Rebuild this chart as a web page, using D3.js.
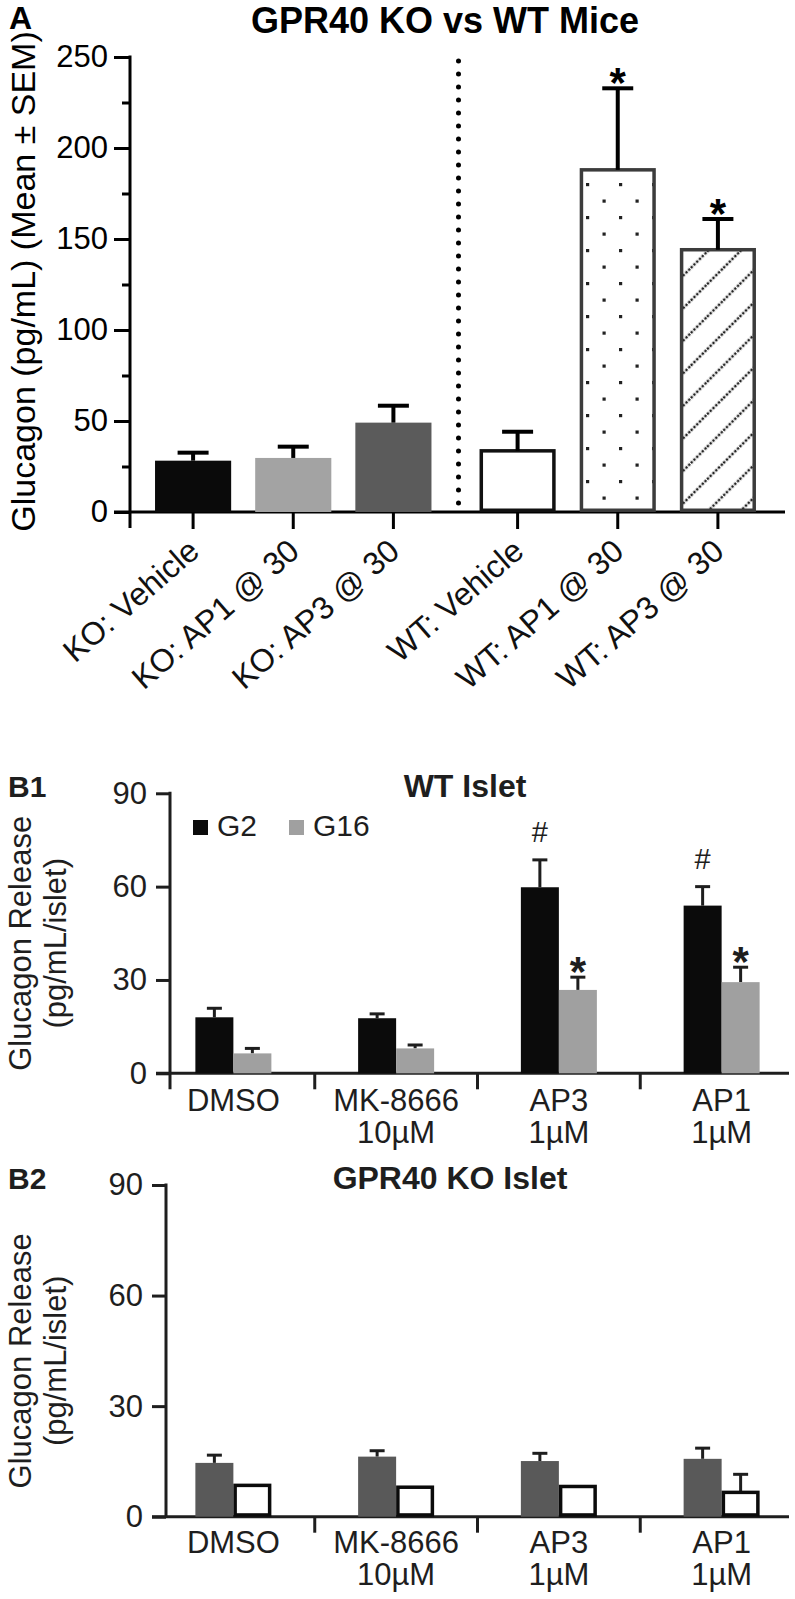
<!DOCTYPE html>
<html><head><meta charset="utf-8">
<script src="https://cdnjs.cloudflare.com/ajax/libs/d3/7.8.5/d3.min.js"></script>
<style>body{margin:0;background:#fff}svg{display:block}</style>
</head><body><div id="chart"></div>
<script>
// ---------------- DATA ----------------
// Panel A
const aCategories = ["KO: Vehicle","KO: AP1 @ 30","KO: AP3 @ 30","WT: Vehicle","WT: AP1 @ 30","WT: AP3 @ 30"];
const aGroups = ["KO","KO","KO","WT","WT","WT"];
const aMeans = [28.2, 29.7, 49.1, 33.6, 188.0, 144.1];
const aSEM   = [4.4, 6.2, 9.3, 10.5, 44.8, 16.9];
const aSignif = ["","","","","*","*"];
const aYTicks = [0,50,100,150,200,250];
const aYMinorTicks = [25,75,125,175,225];

// Panels B1 / B2
const bCategories = [["DMSO"],["MK-8666","10µM"],["AP3","1µM"],["AP1","1µM"]];
const bSeries = ["G2","G16"];
const bYTicks = [0,30,60,90];
const b1G2   = [18.0, 17.7, 59.8, 53.9];
const b1G2E  = [2.9, 1.4, 8.8, 6.1];
const b1G16  = [6.4, 8.0, 26.8, 29.3];
const b1G16E = [1.6, 1.1, 4.1, 4.8];
const b1G2Sig  = ["","","#","#"];
const b1G16Sig = ["","","*","*"];
const b2G2   = [14.6, 16.3, 15.1, 15.7];
const b2G2E  = [2.1, 1.6, 2.1, 2.9];
const b2G16  = [8.5, 8.0, 8.2, 6.6];
const b2G16E = [0, 0, 0, 4.9];

// ---------------- STYLE ----------------
const FONT = "'Liberation Sans', Arial, Helvetica, sans-serif";
const aFills = ["#0a0a0a","#a3a3a3","#5b5b5b","#ffffff","url(#dots)","url(#hatch)"];
const aStrokes = [null,null,null,"#111111","#3c3c3c","#3c3c3c"];

const svg = d3.select("#chart").append("svg")
  .attr("width",795).attr("height",1599)
  .style("font-family",FONT);

const defs = svg.append("defs");
const dots = defs.append("pattern").attr("id","dots").attr("patternUnits","userSpaceOnUse")
  .attr("width",33).attr("height",33).attr("x",586).attr("y",183);
dots.append("rect").attr("x",0).attr("y",0).attr("width",3.2).attr("height",3.2).attr("fill","#222");
dots.append("rect").attr("x",16.5).attr("y",16.5).attr("width",3.2).attr("height",3.2).attr("fill","#222");
const hatch = defs.append("pattern").attr("id","hatch").attr("patternUnits","userSpaceOnUse")
  .attr("width",23).attr("height",23).attr("patternTransform","rotate(-45)");
hatch.append("line").attr("x1",0).attr("x2",23).attr("y1",11).attr("y2",11)
  .attr("stroke","#222").attr("stroke-width",2.6).attr("stroke-dasharray","2.4 1.5");

// ---------------- PANEL A ----------------
const gA = svg.append("g");
const aY = d3.scaleLinear().domain([0,250]).range([512,57]);
const aGroupScale = d3.scaleBand().domain(["KO","WT"]).range([131,780]);
const aInner = d3.scaleBand().domain([0,1,2]).range([0,aGroupScale.bandwidth()]).padding(0.24);
const aIdx = aCategories.map((c,i)=>aGroups.slice(0,i).filter(g=>g===aGroups[i]).length);
const aX = i => aGroupScale(aGroups[i]) + aInner(aIdx[i]);
const aCx = i => aX(i) + aInner.bandwidth()/2;
const aAxisX = 130;

gA.append("text").attr("x",9).attr("y",29).attr("font-size",32).attr("font-weight","bold").text("A");
gA.append("text").attr("x",445).attr("y",33).attr("font-size",36).attr("font-weight","bold")
  .attr("text-anchor","middle").text("GPR40 KO vs WT Mice");

// y axis
const aAxis = gA.append("g").attr("transform",`translate(${aAxisX},0)`)
  .call(d3.axisLeft(aY).tickValues(aYTicks).tickSize(16).tickPadding(6).tickFormat(d3.format("d")));
aAxis.select(".domain").remove();
aAxis.selectAll(".tick line").attr("stroke","#000").attr("stroke-width",3);
aAxis.selectAll(".tick text").attr("font-size",31).attr("font-family",FONT).attr("fill","#000");
const aMinor = gA.append("g").attr("transform",`translate(${aAxisX},0)`)
  .call(d3.axisLeft(aY).tickValues(aYMinorTicks).tickSize(8).tickFormat(""));
aMinor.select(".domain").remove();
aMinor.selectAll(".tick line").attr("stroke","#000").attr("stroke-width",3);
gA.append("line").attr("x1",aAxisX).attr("x2",aAxisX).attr("y1",aY(250)-1.5).attr("y2",aY(0)+16)
  .attr("stroke","#000").attr("stroke-width",3);
gA.append("line").attr("x1",aAxisX-16).attr("x2",785).attr("y1",aY(0)).attr("y2",aY(0))
  .attr("stroke","#000").attr("stroke-width",3);

// y label
gA.append("text").attr("transform",`translate(35,${(aY(0)+aY(250))/2 - 3}) rotate(-90)`)
  .attr("text-anchor","middle").attr("font-size",34).text("Glucagon (pg/mL) (Mean ± SEM)");

// dotted divider
const divX = (aX(2)+aInner.bandwidth() + aX(3))/2 + 3;
gA.append("line").attr("x1",divX).attr("x2",divX).attr("y1",aY(250)+4).attr("y2",aY(0)-8)
  .attr("stroke","#000").attr("stroke-width",5).attr("stroke-linecap","round")
  .attr("stroke-dasharray","0 13");

// bars
aCategories.forEach((c,i)=>{
  const sw = aStrokes[i] ? 3.5 : 0;
  const r = gA.append("rect")
    .attr("x",aX(i)+sw/2).attr("width",aInner.bandwidth()-sw)
    .attr("y",aY(aMeans[i])).attr("height",aY(0)-aY(aMeans[i])-sw/2)
    .attr("fill",aFills[i]);
  if (aStrokes[i]) r.attr("stroke",aStrokes[i]).attr("stroke-width",sw);
  // error bar
  const cx = aCx(i);
  gA.append("line").attr("x1",cx).attr("x2",cx).attr("y1",aY(aMeans[i])).attr("y2",aY(aMeans[i]+aSEM[i]))
    .attr("stroke","#000").attr("stroke-width",4);
  gA.append("line").attr("x1",cx-15.5).attr("x2",cx+15.5).attr("y1",aY(aMeans[i]+aSEM[i])).attr("y2",aY(aMeans[i]+aSEM[i]))
    .attr("stroke","#000").attr("stroke-width",4);
  if (aSignif[i]) gA.append("text").attr("x",cx).attr("y",aY(aMeans[i]+aSEM[i])+9)
    .attr("text-anchor","middle").attr("font-size",42).attr("font-weight","bold").text(aSignif[i]);
  // x tick + label
  gA.append("line").attr("x1",cx).attr("x2",cx).attr("y1",aY(0)).attr("y2",aY(0)+17)
    .attr("stroke","#000").attr("stroke-width",3);
  gA.append("text").attr("transform",`translate(${cx+8},554) rotate(-41)`)
    .attr("text-anchor","end").attr("font-size",32).attr("fill","#111").text(c);
});

// ---------------- PANELS B ----------------
function panelB(cfg){
  const g = svg.append("g");
  const y = d3.scaleLinear().domain([0,90]).range([cfg.y0, cfg.y90]);
  const x = d3.scaleBand().domain(d3.range(bCategories.length)).range([152,803]);
  const sub = d3.scaleBand().domain(bSeries).range([-38,38]);
  const col = "#1e1e1e";

  g.append("text").attr("x",8).attr("y",cfg.y90+4).attr("font-size",30).attr("font-weight","bold").attr("fill",col).text(cfg.tag);
  g.append("text").attr("x",cfg.titleX).attr("y",cfg.y90+4).attr("font-size",32).attr("font-weight","bold")
    .attr("text-anchor","middle").attr("fill",col).text(cfg.title);

  const ax = g.append("g").attr("transform",`translate(${cfg.axisX},0)`)
    .call(d3.axisLeft(y).tickValues(bYTicks).tickSize(14).tickPadding(9));
  ax.select(".domain").remove();
  ax.selectAll(".tick line").attr("stroke",col).attr("stroke-width",3);
  ax.selectAll(".tick text").attr("font-size",31).attr("font-family",FONT).attr("fill",col);
  g.append("line").attr("x1",cfg.axisX).attr("x2",cfg.axisX).attr("y1",y(90)-1.5).attr("y2",y(0)+cfg.yExt)
    .attr("stroke",col).attr("stroke-width",3);
  g.append("line").attr("x1",cfg.axisX-14).attr("x2",789).attr("y1",y(0)).attr("y2",y(0))
    .attr("stroke",col).attr("stroke-width",3);
  // separators
  d3.range(1,bCategories.length).forEach(k=>{
    const sx = x(k);
    g.append("line").attr("x1",sx).attr("x2",sx).attr("y1",y(0)).attr("y2",y(0)+16)
      .attr("stroke",col).attr("stroke-width",3);
  });
  // y label
  const my = (y(0)+y(90))/2 + 10;
  g.append("text").attr("transform",`translate(31,${my}) rotate(-90)`).attr("text-anchor","middle")
    .attr("font-size",31).attr("fill",col).text("Glucagon Release");
  g.append("text").attr("transform",`translate(66,${my}) rotate(-90)`).attr("text-anchor","middle")
    .attr("font-size",31).attr("fill",col).text("(pg/mL/islet)");

  const series = [
    {key:"G2", vals:cfg.g2, errs:cfg.g2e, sig:cfg.g2sig, fill:cfg.fills[0], stroke:cfg.strokes[0], sigFont:"normal", sigSize:29, sigOff:-18},
    {key:"G16", vals:cfg.g16, errs:cfg.g16e, sig:cfg.g16sig, fill:cfg.fills[1], stroke:cfg.strokes[1], sigFont:"bold", sigSize:42, sigOff:9}
  ];
  bCategories.forEach((cat,i)=>{
    const cx = x(i)+x.bandwidth()/2;
    series.forEach(s=>{
      const bx = cx + sub(s.key);
      const v = s.vals[i], e = s.errs[i];
      const sw = s.stroke ? 3.5 : 0;
      const ecx = bx + sub.bandwidth()/2;
      if (e>0){
        g.append("line").attr("x1",ecx).attr("x2",ecx).attr("y1",y(v)).attr("y2",y(v+e)).attr("stroke",col).attr("stroke-width",3);
        g.append("line").attr("x1",ecx-7.5).attr("x2",ecx+7.5).attr("y1",y(v+e)).attr("y2",y(v+e)).attr("stroke",col).attr("stroke-width",3);
      }
      const r = g.append("rect").attr("x",bx+sw/2).attr("width",sub.bandwidth()-sw)
        .attr("y",y(v)).attr("height",y(0)-y(v)-sw/2).attr("fill",s.fill);
      if (s.stroke) r.attr("stroke",s.stroke).attr("stroke-width",sw);
      if (s.sig && s.sig[i]) g.append("text").attr("x",ecx).attr("y",y(v+e)+s.sigOff)
        .attr("text-anchor","middle").attr("font-size",s.sigSize).attr("font-weight",s.sigFont).attr("fill",col).text(s.sig[i]);
    });
    cat.forEach((line,li)=>{
      g.append("text").attr("x",cx).attr("y",y(0)+cfg.labOff+li*32).attr("text-anchor","middle")
        .attr("font-size",31).attr("fill",col).text(line);
    });
  });
  if (cfg.legend){
    bSeries.forEach((k,j)=>{
      const lx = [193,289][j];
      g.append("rect").attr("x",lx).attr("y",820).attr("width",15).attr("height",15).attr("fill",cfg.fills[j]);
      g.append("text").attr("x",lx+24).attr("y",836).attr("font-size",30).attr("fill",col).text(k);
    });
  }
}

panelB({tag:"B1", title:"WT Islet", titleX:465, y0:1073.3, y90:793.3, axisX:170, yExt:16, labOff:38,
  g2:b1G2, g2e:b1G2E, g16:b1G16, g16e:b1G16E, g2sig:b1G2Sig, g16sig:b1G16Sig,
  fills:["#0b0b0b","#a0a0a0"], strokes:[null,null], legend:true});
panelB({tag:"B2", title:"GPR40 KO Islet", titleX:450, y0:1516.7, y90:1185, axisX:166, yExt:0, labOff:36,
  g2:b2G2, g2e:b2G2E, g16:b2G16, g16e:b2G16E, g2sig:null, g16sig:null,
  fills:["#595959","#ffffff"], strokes:[null,"#0b0b0b"], legend:false});
</script>
</body></html>
